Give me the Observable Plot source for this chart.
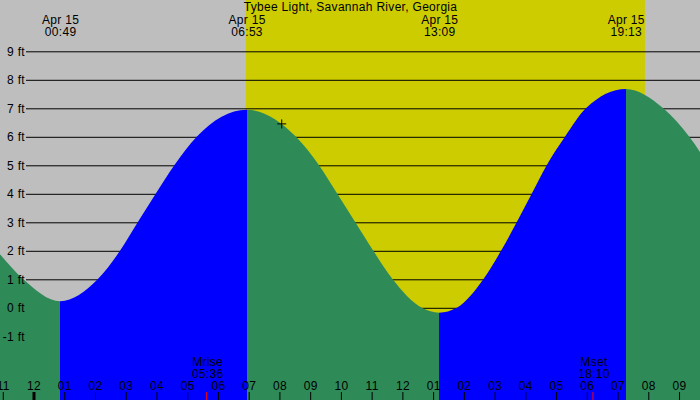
<!DOCTYPE html>
<html><head><meta charset="utf-8">
<script src="https://cdn.jsdelivr.net/npm/d3@7"></script>
<script src="https://cdn.jsdelivr.net/npm/@observablehq/plot@0.6"></script>
<style>html,body{margin:0;padding:0;background:#fff} svg{display:block} svg text{letter-spacing:0.3px}</style>
</head><body><div id="chart"></div>
<script>
const title = "Tybee Light, Savannah River, Georgia";
// tide curve (hour of day, feet)
const tideHours = [-1.139, -0.38, 0.817, 2.04, 2.765, 3.341, 3.926, 4.532, 5.26, 6.883, 8.49, 9.239, 9.834, 10.42, 11.005, 11.636, 12.58, 13.15, 13.72, 14.584, 15.16, 15.67, 16.158, 16.646, 17.24, 17.92, 19.217, 20.44, 21.285, 21.633];
const tideFeet  = [1.88, 1.0, 0.23, 1.0, 2.0, 3.0, 4.0, 5.0, 6.0, 6.95, 6.0, 5.0, 4.0, 3.0, 2.0, 1.0, 0.0, -0.17, 0.0, 1.0, 2.0, 3.0, 4.0, 5.0, 6.0, 7.0, 7.68, 7.0, 6.0, 5.47];
// high / low tides
const extremeHours = [0.817, 6.883, 13.15, 19.217];
const extremeTimes = ["00:49", "06:53", "13:09", "19:13"];
const extremeDate = "Apr 15";
// hour axis
const hourTicks = [-1, 0, 1, 2, 3, 4, 5, 6, 7, 8, 9, 10, 11, 12, 13, 14, 15, 16, 17, 18, 19, 20, 21];
const hourLabels = ["11", "12", "01", "02", "03", "04", "05", "06", "07", "08", "09", "10", "11", "12", "01", "02", "03", "04", "05", "06", "07", "08", "09"];
const feetTicks = [-1, 0, 1, 2, 3, 4, 5, 6, 7, 8, 9];
// sun and moon
const sunriseHour = 6.86, sunsetHour = 19.84;
const moonNames = ["Mrise", "Mset"];
const moonHours = [5.6, 18.167];
const moonTimes = ["05:36", "18:10"];
// current position marker
const nowHour = 8.01, nowFeet = 6.47;

const xDomain = [-1.1386, 21.633];
const yDomain = [-3.235, 10.8];
const GREEN = "#2E8B57", BLUE = "#0000FF", YELLOW = "#CCCC00", GRAY = "#BEBEBE";

const tide = tideHours.map((h, i) => ({h, ft: tideFeet[i]}));
const extremes = extremeHours.map((h, i) => ({h, label: extremeDate + "\n" + extremeTimes[i]}));
const hours = hourTicks.map((h, i) => ({h, label: hourLabels[i]}));
const moons = moonHours.map((h, i) => ({h, label: moonNames[i] + "\n" + moonTimes[i]}));

function tideGradient(index, scales, values, dimensions) {
  const defs = d3.create("svg:defs");
  const g = defs.append("linearGradient")
    .attr("id", "tideFill")
    .attr("gradientUnits", "userSpaceOnUse")
    .attr("x1", 0).attr("x2", dimensions.width).attr("y1", 0).attr("y2", 0);
  // before the first (low) extreme the tide is falling
  let color = tideFeet[1] < tideFeet[0] ? GREEN : BLUE;
  g.append("stop").attr("offset", 0).attr("stop-color", color);
  extremeHours.forEach(h => {
    const off = scales.x(h) / dimensions.width;
    g.append("stop").attr("offset", off).attr("stop-color", color);
    color = color === GREEN ? BLUE : GREEN;
    g.append("stop").attr("offset", off).attr("stop-color", color);
  });
  g.append("stop").attr("offset", 1).attr("stop-color", color);
  return defs.node();
}

const plot = Plot.plot({
  width: 700,
  height: 400,
  margin: 0,
  x: {domain: xDomain, axis: null},
  y: {domain: yDomain, axis: null},
  style: {background: GRAY, fontFamily: "Liberation Sans, Arial, sans-serif", fontSize: "12px", color: "black"},
  marks: [
    Plot.rect([{a: sunriseHour, b: sunsetHour}], {x1: "a", x2: "b", fill: YELLOW}),
    Plot.ruleY(feetTicks, {y: d => d, insetLeft: 26, stroke: "black", strokeWidth: 1}),
    tideGradient,
    Plot.area(tide, {x1: "h", y1: () => yDomain[0], y2: "ft", curve: "monotone-x", fill: "url(#tideFill)"}),
    Plot.dot([{h: nowHour, ft: nowFeet}], {x: "h", y: "ft", symbol: "plus", r: 3, stroke: "black", strokeWidth: 1}),
    Plot.text(feetTicks, {y: d => d, text: d => d + " ft", frameAnchor: "left", textAnchor: "end", dx: 24.5, fill: "black"}),
    Plot.text([title], {text: d => d, frameAnchor: "top", lineAnchor: "middle", dy: 7, fill: "black"}),
    Plot.text(extremes, {x: "h", text: "label", frameAnchor: "top", lineAnchor: "middle", lineHeight: 1, dy: 25.5, fill: "black"}),
    Plot.ruleX(hours.filter(d => d.h !== 0), {x: "h", insetTop: 392, dx: -1.5, stroke: "black", strokeWidth: 1}),
    Plot.ruleX(hours.filter(d => d.h === 0), {x: "h", insetTop: 392, dx: -1.5, stroke: "black", strokeWidth: 3}),
    Plot.ruleX(moons, {x: "h", insetTop: 392, dx: -1, stroke: "red", strokeWidth: 1}),
    Plot.text(hours, {x: "h", text: "label", frameAnchor: "bottom", lineAnchor: "middle", dy: -14, dx: -1.5, fill: "black"}),
    Plot.text(moons, {x: "h", text: "label", frameAnchor: "bottom", lineAnchor: "middle", lineHeight: 0.97, dy: -32.5, fill: "black"})
  ]
});
document.getElementById("chart").appendChild(plot);
</script>
</body></html>
